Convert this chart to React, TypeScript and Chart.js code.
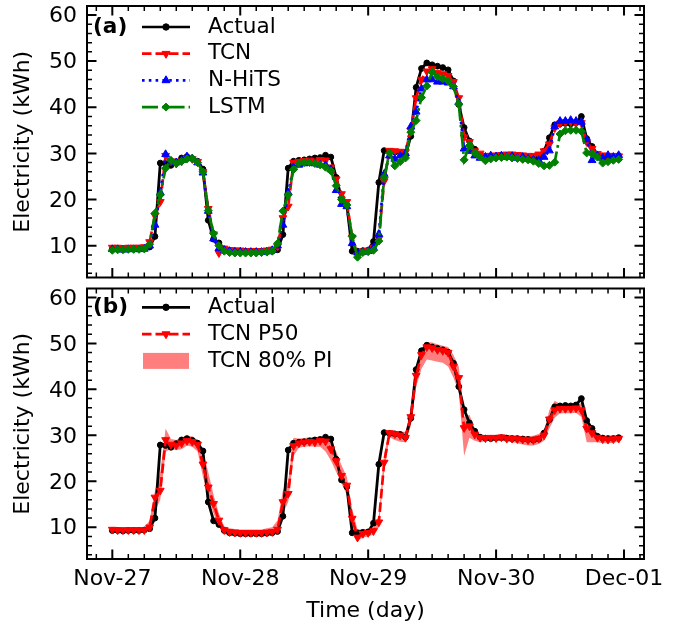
import React, { useEffect, useRef } from "react";
import { Chart, registerables } from "chart.js";

Chart.register(...registerables);

const FONT = "'DejaVu Sans', 'Liberation Sans', sans-serif";
const FS = 22;
const LFS = 21.6;

// x axis: hours since Nov-27 00:00
const dayTicks = [0, 24, 48, 72, 96];
const dayLabels = ["Nov-27", "Nov-28", "Nov-29", "Nov-30", "Dec-01"];
const yTicks = [10, 20, 30, 40, 50, 60];

const actual = [
  9.3, 9.3, 9.2, 9.3, 9.3, 9.3, 9.4, 9.7, 12.0, 27.9,
  27.8, 27.4, 28.2, 29.0, 29.3, 28.9, 28.3, 26.6, 15.5, 11.4,
  10.6, 9.3, 8.8, 8.7, 8.6, 8.6, 8.6, 8.6, 8.6, 8.7,
  8.8, 9.1, 12.4, 26.8, 28.3, 28.5, 28.6, 28.8, 29.0, 29.1,
  29.6, 29.2, 24.8, 20.3, 18.8, 8.8, 8.8, 8.9, 9.0, 10.9,
  23.7, 30.6, 30.4, 30.3, 30.2, 29.6, 33.7, 44.3, 48.4, 49.6,
  49.2, 48.9, 48.6, 48.1, 45.7, 40.6, 35.6, 32.7, 30.9, 29.6,
  29.4, 29.3, 29.4, 29.5, 29.4, 29.3, 29.3, 29.2, 29.1, 29.0,
  29.2, 30.5, 33.4, 36.2, 36.4, 36.5, 36.4, 36.6, 38.0, 33.2,
  31.5, 29.8, 29.4, 29.3, 29.3, 29.5,
];

const tcn = [
  9.6, 9.6, 9.5, 9.6, 9.6, 9.6, 9.7, 10.8, 16.5, 19.5,
  29.5, 28.3, 27.8, 28.3, 29.0, 28.8, 28.2, 26.0, 18.0, 12.5,
  8.4, 9.4, 9.1, 9.0, 9.0, 8.9, 8.9, 8.9, 8.9, 9.0,
  9.2, 9.8, 16.0, 18.5, 28.0, 28.2, 28.4, 28.5, 28.3, 28.6,
  28.5, 27.0, 24.4, 21.2, 19.5, 11.8, 7.9, 8.8, 9.0, 9.6,
  11.5, 24.0, 30.6, 30.5, 30.4, 30.3, 35.0, 42.0, 46.0, 47.8,
  48.3, 47.5, 47.2, 46.8, 45.5, 42.0, 33.5, 32.5, 30.5, 30.0,
  29.5, 29.5, 29.6, 29.7, 29.8, 29.8, 29.7, 29.6, 29.5, 29.5,
  29.8, 30.5, 32.0, 35.5, 36.5, 36.8, 36.8, 36.5, 36.6, 32.5,
  31.0, 29.9, 29.6, 29.5, 29.5, 29.4,
];

const nhits = [
  9.2, 9.2, 9.1, 9.2, 9.2, 9.2, 9.3, 10.0, 14.5, 21.5,
  29.8, 28.2, 28.0, 28.5, 29.3, 28.9, 28.0, 25.8, 17.5, 11.5,
  9.4, 9.0, 8.8, 8.7, 8.7, 8.6, 8.6, 8.6, 8.6, 8.7,
  9.0, 10.0, 14.5, 21.5, 27.0, 27.5, 27.8, 28.0, 27.8, 27.5,
  27.5, 26.5, 22.0, 19.0, 18.5, 10.5, 8.5, 8.6, 8.8, 9.5,
  12.5, 25.5, 29.5, 28.8, 29.5, 30.0, 35.8, 39.0, 44.0, 46.0,
  46.0, 45.5, 45.5, 45.3, 44.5, 41.0, 31.0, 30.5, 29.5, 29.0,
  29.2, 29.5, 29.3, 29.5, 29.2, 29.4, 29.0, 29.2, 28.8, 28.6,
  28.5, 29.2, 30.6, 35.8, 37.0, 37.0, 37.2, 37.0, 36.8, 33.0,
  28.5, 29.5, 29.0, 29.6, 29.2, 29.6,
];

const lstm = [
  9.0, 9.1, 9.1, 9.2, 9.2, 9.2, 9.3, 10.3, 17.0, 21.0,
  26.8, 28.5, 27.8, 28.3, 28.8, 28.9, 28.0, 26.0, 17.6, 12.6,
  10.0, 8.8, 8.5, 8.4, 8.4, 8.4, 8.4, 8.4, 8.5, 8.6,
  8.8, 10.5, 17.5, 21.0, 26.5, 27.8, 28.0, 28.0, 27.8, 27.5,
  27.0, 26.2, 23.0, 20.0, 18.8, 12.0, 7.5, 8.5, 8.7, 9.0,
  11.0, 24.8, 30.1, 27.3, 28.2, 29.0, 34.6, 37.1, 42.1, 44.6,
  47.6, 46.6, 46.2, 45.7, 44.5, 40.7, 28.6, 31.7, 30.1, 29.2,
  28.4, 28.8, 29.0, 29.1, 29.2, 29.0, 28.9, 28.7, 28.6, 28.3,
  27.8, 27.3, 27.4, 28.1, 34.2, 34.9, 35.0, 35.0, 34.8, 30.1,
  29.9, 29.2, 27.9, 28.2, 28.5, 28.7,
];

const tcnP50 = [
  9.5, 9.4, 9.4, 9.4, 9.4, 9.4, 9.4, 10.0, 16.5, 18.0,
  29.0, 28.0, 27.8, 28.3, 28.8, 28.6, 28.0, 23.7, 18.7, 15.1,
  11.5, 9.4, 9.0, 8.9, 8.8, 8.8, 8.8, 8.8, 8.8, 8.9,
  9.0, 9.5, 15.5, 17.3, 27.7, 28.3, 28.5, 28.6, 28.5, 28.8,
  28.7, 27.0, 24.4, 21.2, 19.1, 11.9, 7.8, 8.6, 8.8, 9.2,
  11.1, 24.1, 30.5, 30.3, 30.0, 29.5, 34.0, 43.0, 47.5, 49.2,
  49.0, 48.6, 48.4, 48.0, 45.0, 42.5, 31.6, 32.0, 30.2, 29.5,
  29.4, 29.5, 29.4, 29.6, 29.3, 29.3, 29.2, 29.1, 29.0, 29.0,
  29.3, 30.0, 33.5, 35.5, 35.8, 35.8, 35.8, 35.9, 35.5, 31.5,
  30.5, 29.5, 29.2, 29.1, 29.2, 29.3,
];

const piLower = [
  8.9, 8.8, 8.8, 8.8, 8.8, 8.8, 8.8, 9.3, 13.5, 16.0,
  26.5, 27.0, 26.8, 27.0, 27.8, 27.5, 26.5, 21.0, 16.5, 13.0,
  10.0, 8.6, 8.2, 8.1, 8.0, 8.0, 8.0, 8.0, 8.0, 8.1,
  8.3, 8.5, 13.0, 15.5, 25.5, 27.3, 27.5, 27.6, 27.5, 27.5,
  26.5, 24.5, 22.0, 19.5, 17.0, 10.0, 7.0, 7.8, 8.0, 8.4,
  10.0, 22.0, 29.6, 29.0, 28.6, 28.5, 32.0, 40.5, 44.5, 46.5,
  46.3, 46.0, 45.8, 45.0, 42.5, 39.5, 25.5, 29.5, 28.8, 28.5,
  28.7, 28.8, 28.7, 28.8, 28.6, 28.5, 28.3, 28.0, 27.8, 27.8,
  28.1, 28.8, 31.5, 33.8, 34.8, 34.8, 34.8, 34.9, 34.0, 28.5,
  28.5, 28.5, 28.3, 28.3, 28.4, 28.6,
];

const piUpper = [
  10.0, 9.9, 9.9, 9.9, 9.9, 9.9, 10.0, 11.5, 18.0, 22.0,
  31.5, 29.2, 29.0, 29.6, 29.8, 29.8, 29.0, 26.5, 22.0, 17.0,
  13.0, 10.2, 9.8, 9.6, 9.5, 9.5, 9.5, 9.5, 9.5, 9.8,
  10.0, 11.5, 18.0, 20.0, 29.5, 29.3, 29.4, 29.6, 29.6, 29.8,
  29.5, 28.8, 26.5, 23.5, 21.0, 14.0, 9.5, 9.5, 9.6, 10.0,
  12.5, 26.0, 31.2, 31.0, 30.8, 30.8, 35.8, 45.0, 49.0, 50.3,
  50.2, 49.8, 49.5, 49.2, 47.5, 45.0, 34.0, 34.5, 31.5, 30.2,
  30.0, 30.1, 30.1, 30.2, 30.0, 30.0, 29.9, 29.8, 29.8, 29.9,
  30.3, 31.0, 35.5, 37.5, 36.8, 36.8, 36.8, 36.8, 37.0, 34.0,
  31.5, 30.3, 30.0, 29.9, 30.0, 30.1,
];

const toXY = (arr: number[]) => arr.map((v, i) => ({ x: i, y: v }));

const LW = 2.7;
const DASH = [9.5, 4];
const DOT = [2.6, 4.2];
const DASHDOT = [16, 4, 2.6, 4];
const RED = "#ff0000";
const BLUE = "#0000ff";
const GREEN = "#008000";
const PI_FILL = "rgba(255,0,0,0.5)";

function drawMarker(ctx: CanvasRenderingContext2D, style: string, x: number, y: number, r: number, color: string) {
  ctx.save();
  ctx.setLineDash([]);
  ctx.fillStyle = color;
  ctx.strokeStyle = color;
  ctx.lineWidth = 1;
  ctx.beginPath();
  if (style === "circle") {
    ctx.arc(x, y, r, 0, Math.PI * 2);
  } else if (style === "triDown") {
    ctx.moveTo(x, y + r);
    ctx.lineTo(x - r * 0.866, y - r * 0.5);
    ctx.lineTo(x + r * 0.866, y - r * 0.5);
    ctx.closePath();
  } else if (style === "triUp") {
    ctx.moveTo(x, y - r);
    ctx.lineTo(x - r * 0.866, y + r * 0.5);
    ctx.lineTo(x + r * 0.866, y + r * 0.5);
    ctx.closePath();
  } else if (style === "diamond") {
    ctx.moveTo(x, y - r);
    ctx.lineTo(x + r, y);
    ctx.lineTo(x, y + r);
    ctx.lineTo(x - r, y);
    ctx.closePath();
  }
  ctx.fill();
  ctx.stroke();
  ctx.restore();
}

type LegendItem = { label: string; color: string; dash?: number[]; marker?: string; r?: number; patch?: string };

function makeLegend(tag: string, tagY: number, y0: number, dy: number, items: LegendItem[]) {
  return {
    id: "mplLegend",
    afterDraw(chart: any) {
      const ctx: CanvasRenderingContext2D = chart.ctx;
      ctx.save();
      ctx.textBaseline = "middle";
      ctx.textAlign = "left";
      ctx.fillStyle = "#000";
      ctx.font = `bold ${LFS}px ${FONT}`;
      ctx.fillText(tag, 93, tagY);
      ctx.font = `${LFS}px ${FONT}`;
      items.forEach((it, i) => {
        const y = y0 + i * dy;
        if (it.patch) {
          ctx.fillStyle = it.patch;
          ctx.fillRect(143, y - 8, 46, 16);
        } else {
          ctx.strokeStyle = it.color;
          ctx.lineWidth = LW;
          ctx.setLineDash(it.dash || []);
          ctx.beginPath();
          ctx.moveTo(142, y);
          ctx.lineTo(190, y);
          ctx.stroke();
          ctx.setLineDash([]);
          if (it.marker) drawMarker(ctx, it.marker, 166, y, it.r || 3, it.color);
        }
        ctx.fillStyle = "#000";
        ctx.fillText(it.label, 208, y);
      });
      ctx.restore();
    },
  };
}

const frameTicks = {
  id: "frameTicks",
  afterDatasetsDraw(chart: any) {
    const ctx: CanvasRenderingContext2D = chart.ctx;
    const a = chart.chartArea;
    const xs = chart.scales.x;
    const ys = chart.scales.y;
    ctx.save();
    ctx.setLineDash([]);
    ctx.strokeStyle = "#000";
    const drawX = (v: number, len: number, w: number) => {
      const px = xs.getPixelForValue(v);
      if (px < a.left + 1 || px > a.right - 1) return;
      ctx.lineWidth = w;
      ctx.beginPath();
      ctx.moveTo(px, a.bottom);
      ctx.lineTo(px, a.bottom - len);
      ctx.moveTo(px, a.top);
      ctx.lineTo(px, a.top + len);
      ctx.stroke();
    };
    const drawY = (v: number, len: number, w: number) => {
      const py = ys.getPixelForValue(v);
      if (py < a.top + 1 || py > a.bottom - 1) return;
      ctx.lineWidth = w;
      ctx.beginPath();
      ctx.moveTo(a.left, py);
      ctx.lineTo(a.left + len, py);
      ctx.moveTo(a.right, py);
      ctx.lineTo(a.right - len, py);
      ctx.stroke();
    };
    for (let h = -3; h <= 99; h += 3) {
      if (dayTicks.indexOf(h) < 0) drawX(h, 5, 1.5);
    }
    dayTicks.forEach((h) => drawX(h, 9.5, 2));
    for (let v = 4; v <= 62; v += 2) {
      if (yTicks.indexOf(v) < 0) drawY(v, 5, 1.5);
    }
    yTicks.forEach((v) => drawY(v, 9.5, 2));
    ctx.lineWidth = 2;
    ctx.strokeRect(a.left, a.top, a.right - a.left, a.bottom - a.top);
    ctx.restore();
  },
};

function makeScales(showX: boolean) {
  const font = { family: FONT, size: FS };
  return {
    x: {
      type: "linear" as const,
      min: -4.75,
      max: 99.75,
      afterBuildTicks: (s: any) => {
        s.ticks = dayTicks.map((v) => ({ value: v }));
      },
      afterFit: (s: any) => {
        s.height = showX ? 72 : 0;
        s.paddingLeft = 0;
        s.paddingRight = 0;
        s.paddingTop = 0;
        s.paddingBottom = 0;
      },
      grid: { display: false, drawTicks: false },
      border: { display: false },
      ticks: {
        display: showX,
        autoSkip: false,
        maxRotation: 0,
        color: "#000",
        font,
        padding: 7,
        callback: (_v: any, i: number) => dayLabels[i],
      },
      title: {
        display: showX,
        text: "Time (day)",
        color: "#000",
        font,
        padding: { top: 0, bottom: 7 },
      },
    },
    y: {
      type: "linear" as const,
      min: 3.1,
      max: 61.94,
      afterBuildTicks: (s: any) => {
        s.ticks = yTicks.map((v) => ({ value: v }));
      },
      afterFit: (s: any) => {
        s.width = 87;
        s.paddingLeft = 0;
        s.paddingRight = 0;
        s.paddingTop = 0;
        s.paddingBottom = 0;
      },
      grid: { display: false, drawTicks: false },
      border: { display: false },
      ticks: {
        color: "#000",
        font,
        padding: 10,
        labelOffset: 1.5,
        callback: (v: any) => String(v),
      },
      title: {
        display: true,
        text: "Electricity (kWh)",
        color: "#000",
        font,
        padding: { top: 10, bottom: 0 },
      },
    },
  };
}

const baseOptions = (showX: boolean, padTop: number, padBottom: number) => ({
  responsive: false,
  maintainAspectRatio: false,
  animation: false as const,
  devicePixelRatio: 1,
  layout: { padding: { top: padTop, bottom: padBottom, left: 0, right: 45 } },
  plugins: { legend: { display: false }, tooltip: { enabled: false } },
  scales: makeScales(showX),
});

export default function App() {
  const refA = useRef<HTMLCanvasElement>(null);
  const refB = useRef<HTMLCanvasElement>(null);

  useEffect(() => {
    const chartA = new Chart(refA.current as HTMLCanvasElement, {
      type: "line",
      data: {
        datasets: [
          {
            label: "Actual",
            data: toXY(actual),
            borderColor: "#000",
            backgroundColor: "#000",
            borderWidth: 2.8,
            pointStyle: "circle",
            pointRadius: 2.9,
            pointBorderWidth: 1,
            tension: 0,
            order: 4,
          },
          {
            label: "TCN",
            data: toXY(tcn),
            borderColor: RED,
            backgroundColor: RED,
            borderWidth: LW,
            borderDash: DASH,
            pointStyle: "triangle",
            pointRotation: 180,
            pointRadius: 4.5,
            pointBorderWidth: 1,
            tension: 0,
            order: 3,
          },
          {
            label: "N-HiTS",
            data: toXY(nhits),
            borderColor: BLUE,
            backgroundColor: BLUE,
            borderWidth: LW,
            borderDash: DOT,
            pointStyle: "triangle",
            pointRadius: 4.5,
            pointBorderWidth: 1,
            tension: 0,
            order: 2,
          },
          {
            label: "LSTM",
            data: toXY(lstm),
            borderColor: GREEN,
            backgroundColor: GREEN,
            borderWidth: LW,
            borderDash: DASHDOT,
            pointStyle: "rectRot",
            pointRadius: 4,
            pointBorderWidth: 1,
            tension: 0,
            order: 1,
          },
        ],
      },
      options: baseOptions(false, 6, 4) as any,
      plugins: [
        frameTicks,
        makeLegend("(a)", 27, 27, 26.7, [
          { label: "Actual", color: "#000", marker: "circle", r: 3.2 },
          { label: "TCN", color: RED, dash: DASH, marker: "triDown", r: 4.6 },
          { label: "N-HiTS", color: BLUE, dash: DOT, marker: "triUp", r: 4.6 },
          { label: "LSTM", color: GREEN, dash: DASHDOT, marker: "diamond", r: 4 },
        ]),
      ],
    });

    const chartB = new Chart(refB.current as HTMLCanvasElement, {
      type: "line",
      data: {
        datasets: [
          {
            label: "PI lower",
            data: toXY(piLower),
            borderWidth: 0,
            borderColor: "rgba(0,0,0,0)",
            pointRadius: 0,
            fill: false,
            tension: 0,
            order: 6,
          },
          {
            label: "TCN 80% PI",
            data: toXY(piUpper),
            borderWidth: 0,
            borderColor: "rgba(0,0,0,0)",
            backgroundColor: PI_FILL,
            pointRadius: 0,
            fill: "-1",
            tension: 0,
            order: 5,
          },
          {
            label: "Actual",
            data: toXY(actual),
            borderColor: "#000",
            backgroundColor: "#000",
            borderWidth: 2.8,
            pointStyle: "circle",
            pointRadius: 2.9,
            pointBorderWidth: 1,
            tension: 0,
            order: 3,
          },
          {
            label: "TCN P50",
            data: toXY(tcnP50),
            borderColor: RED,
            backgroundColor: RED,
            borderWidth: LW,
            borderDash: DASH,
            pointStyle: "triangle",
            pointRotation: 180,
            pointRadius: 4.5,
            pointBorderWidth: 1,
            tension: 0,
            order: 2,
          },
        ],
      },
      options: baseOptions(true, 3, 0) as any,
      plugins: [
        frameTicks,
        makeLegend("(b)", 24, 24.3, 26.8, [
          { label: "Actual", color: "#000", marker: "circle", r: 3.2 },
          { label: "TCN P50", color: RED, dash: DASH, marker: "triDown", r: 4.6 },
          { label: "TCN 80% PI", color: RED, patch: "rgba(255,0,0,0.5)" },
        ]),
      ],
    });

    return () => {
      chartA.destroy();
      chartB.destroy();
    };
  }, []);

  return (
    <div style={{ position: "absolute", left: 0, top: 0, width: 689, height: 631, background: "#fff", overflow: "hidden" }}>
      <canvas
        ref={refA}
        width={689}
        height={283}
        style={{ position: "absolute", left: 0, top: 0, width: 689, height: 283 }}
      />
      <canvas
        ref={refB}
        width={689}
        height={348}
        style={{ position: "absolute", left: 0, top: 283, width: 689, height: 348 }}
      />
    </div>
  );
}
